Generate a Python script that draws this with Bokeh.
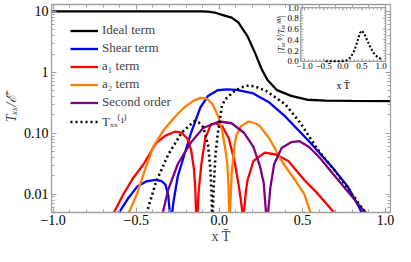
import math
from bokeh.plotting import figure
from bokeh.models import (Range1d, FixedTicker, LinearAxis, LogAxis, Legend, LegendItem,
                          CustomLabelingPolicy, LinearScale)
from bokeh.core.properties import value
from bokeh.embed import file_html
from bokeh.resources import INLINE

# ---------------- data ----------------
ideal_x = [-1.01, -0.5, -0.2, -0.114, -0.068, -0.028, 0.017, 0.074, 0.114, 0.17, 0.216,
           0.256, 0.29, 0.347, 0.432, 0.528, 0.642, 0.8, 1.03]
ideal_y = [10.0, 10.0, 10.0, 10.0, 9.9, 9.6, 8.8, 7.9, 6.6, 3.9, 2.05,
           1.11, 0.75, 0.51, 0.41, 0.355, 0.343, 0.34, 0.338]

shear_x = [-0.62, -0.597, -0.551, -0.494, -0.4375, -0.381, -0.347, -0.324, -0.307, -0.298,
           -0.293, -0.284, -0.276, -0.25, -0.21, -0.17, -0.114, -0.068, -0.011, 0.045,
           0.102, 0.199, 0.301, 0.398, 0.545, 0.682, 0.773, 0.841, 0.858, 0.869]
shear_y = [0.0045, 0.0053, 0.0084, 0.0133, 0.0163, 0.0171, 0.0163, 0.0143, 0.0094, 0.0049,
           0.0001, 0.0049, 0.0075, 0.0197, 0.0448, 0.102, 0.267, 0.41, 0.508, 0.526,
           0.517, 0.456, 0.319, 0.187, 0.0713, 0.0272, 0.0133, 0.0061, 0.0049, 0.0043]

a1_x = [-0.653, -0.636, -0.58, -0.523, -0.455, -0.381, -0.324, -0.267, -0.227, -0.193,
        -0.170, -0.153, -0.145, -0.140, -0.136, -0.131, -0.125, -0.108, -0.085, -0.051,
        -0.023, 0.017, 0.057, 0.091, 0.114, 0.131, 0.139, 0.144, 0.148, 0.159,
        0.170, 0.205, 0.273, 0.341, 0.415, 0.511, 0.585, 0.682, 0.71]
a1_y = [0.0040, 0.0049, 0.0097, 0.0177, 0.0313, 0.0688, 0.0915, 0.106, 0.102, 0.082,
        0.0535, 0.0263, 0.0128, 0.0049, 0.0001, 0.0049, 0.0107, 0.0313, 0.082, 0.14,
        0.146, 0.131, 0.082, 0.035, 0.0153, 0.0075, 0.0049, 0.0001, 0.0049, 0.0107,
        0.0171, 0.035, 0.048, 0.0448, 0.035, 0.0171, 0.0107, 0.0053, 0.0040]

a2_x = [-0.5625, -0.545, -0.494, -0.455, -0.398, -0.335, -0.267, -0.21, -0.153, -0.114,
        -0.074, -0.04, -0.006, 0.017, 0.034, 0.048, 0.056, 0.059, 0.061, 0.064,
        0.074, 0.091, 0.102, 0.131, 0.176, 0.216, 0.244, 0.301, 0.375, 0.455,
        0.511, 0.545, 0.5625]
a2_y = [0.0040, 0.0049, 0.0104, 0.0219, 0.0596, 0.113, 0.187, 0.267, 0.343, 0.381,
        0.368, 0.297, 0.187, 0.11, 0.0596, 0.0313, 0.0128, 0.0049, 0.0001, 0.0049,
        0.0219, 0.064, 0.0915, 0.131, 0.156, 0.146, 0.131, 0.082, 0.035, 0.0171,
        0.0100, 0.0053, 0.0040]

second_x = [-0.352, -0.341, -0.307, -0.25, -0.17, -0.097, 0.0, 0.074, 0.148, 0.205,
            0.244, 0.267, 0.281, 0.287, 0.293, 0.307, 0.33, 0.375, 0.432, 0.483,
            0.540, 0.602, 0.682, 0.773, 0.852, 0.886, 0.903]
second_y = [0.0040, 0.0049, 0.0120, 0.0313, 0.0713, 0.122, 0.156, 0.146, 0.102, 0.0596,
            0.0292, 0.0153, 0.0049, 0.0001, 0.0049, 0.0128, 0.0313, 0.0575, 0.0713, 0.074,
            0.0596, 0.0403, 0.0219, 0.0111, 0.0061, 0.0049, 0.0040]

t1_x = [-0.449, -0.4375, -0.381, -0.307, -0.227, -0.153, -0.125, -0.097, -0.068, -0.054,
        -0.047, -0.044, -0.042, -0.040, -0.034, -0.023, -0.011, 0.0, 0.017, 0.045,
        0.091, 0.131, 0.176, 0.216, 0.284, 0.398, 0.489, 0.585, 0.642, 0.699,
        0.773, 0.824, 0.869, 0.886]
t1_y = [0.0040, 0.0049, 0.0159, 0.0448, 0.102, 0.156, 0.151, 0.126, 0.064, 0.0263,
        0.0107, 0.0049, 0.0001, 0.0049, 0.0128, 0.0448, 0.0915, 0.146, 0.297, 0.381,
        0.49, 0.565, 0.607, 0.585, 0.49, 0.297, 0.146, 0.0575, 0.0362, 0.0236,
        0.0124, 0.0081, 0.0053, 0.0043]

inset_x = [-0.45, -0.3, -0.1, 0.0, 0.1, 0.2, 0.3, 0.35, 0.4, 0.45, 0.5, 0.55, 0.6, 0.7,
           0.8, 0.9, 1.0]
inset_y = [0.0, 0.0, 0.0, 0.003, 0.02, 0.07, 0.2, 0.3, 0.42, 0.53, 0.57, 0.52, 0.45, 0.29,
           0.16, 0.08, 0.04]

series_labels = ["Ideal term", "Shear term", "a\u2081 term", "a\u2082 term",
                 "Second order", "T\u2093\u2093\u207d\u00b9\u207e"]

x_ticks = [-1.0, -0.5, 0.0, 0.5, 1.0]
x_tick_labels = ["\u22121.0", "\u22120.5", "0.0", "0.5", "1.0"]
y_ticks = [0.01, 0.1, 1.0, 10.0]
y_tick_labels = ["0.01", "0.10", "1", "10"]
inset_y_ticks = [0.0, 0.2, 0.4, 0.6, 0.8, 1.0]
inset_y_tick_labels = ["0.0", "0.2", "0.4", "0.6", "0.8", "1.0"]
inset_xlabel = "x T\u0304"
inset_ylabel = "|T\u2093\u2093\u207d\u00b9\u207e/T\u2093\u2093\u207d\u2070\u207e|"

# ---------------- styling helpers ----------------
SERIF = "Liberation Serif"
FRAME = "#a0a0a0"

x_minor = [round(-1.0 + 0.1 * i, 2) for i in range(21)]
y_minor = [k * 10.0 ** e for e in range(-3, 2) for k in range(2, 10)]
inset_y_minor = [round(0.05 * i, 2) for i in range(21)]


def style_axis(ax, size, tick_in, minor_in, labels=True):
    ax.axis_line_color = FRAME
    ax.axis_line_width = 1.3
    ax.major_tick_line_color = FRAME
    ax.minor_tick_line_color = FRAME
    ax.major_tick_line_width = 1.1
    ax.minor_tick_line_width = 1.0
    ax.major_tick_in = tick_in
    ax.major_tick_out = 0
    ax.minor_tick_in = minor_in
    ax.minor_tick_out = 0
    ax.major_label_text_font = SERIF
    ax.major_label_text_color = "black"
    ax.major_label_text_font_size = size
    ax.major_label_standoff = 2
    if not labels:
        ax.major_label_text_font_size = "1px"
        ax.major_label_standoff = 0
        ax.major_label_policy = CustomLabelingPolicy(code="return []")


def style_label(ax, text, size, style, standoff):
    ax.axis_label = text
    ax.axis_label_text_font = SERIF
    ax.axis_label_text_font_style = style
    ax.axis_label_text_font_size = size
    ax.axis_label_text_line_height = 1.0
    ax.axis_label_standoff = standoff


# ---------------- main figure ----------------
p = figure(width=395, height=246, x_range=Range1d(-1.01, 1.03), y_range=Range1d(0.005, 13.0),
           y_axis_type="log", output_backend="svg", toolbar_location=None,
           min_border_left=0, min_border_right=4, min_border_top=1, min_border_bottom=0)
p.grid.visible = False
p.outline_line_color = FRAME
p.background_fill_color = "white"
p.border_fill_color = "white"

p.xaxis.ticker = FixedTicker(ticks=x_ticks, minor_ticks=x_minor)
p.yaxis.ticker = FixedTicker(ticks=y_ticks, minor_ticks=y_minor)
for ax in p.xaxis:
    style_axis(ax, "14px", 5, 3)
    ax.major_label_overrides = dict(zip(x_ticks, x_tick_labels))
    style_label(ax, "x T\u0304", "14px", "normal", 1)
for ax in p.yaxis:
    style_axis(ax, "14px", 5, 3)
    ax.major_label_standoff = 3
    ax.major_label_overrides = dict(zip(y_ticks, y_tick_labels))
    style_label(ax, "T\u2093\u2093/\u2130\u0304", "14px", "italic", 2)

top_ax = LinearAxis(ticker=FixedTicker(ticks=x_ticks, minor_ticks=x_minor))
style_axis(top_ax, "1px", 5, 3, labels=False)
p.add_layout(top_ax, "above")
right_ax = LogAxis(ticker=FixedTicker(ticks=y_ticks, minor_ticks=y_minor))
style_axis(right_ax, "1px", 5, 3, labels=False)
p.add_layout(right_ax, "right")

LW = 2.3
r_ideal = p.line(ideal_x, ideal_y, line_color="black", line_width=LW)
r_shear = p.line(shear_x, shear_y, line_color="#0000ff", line_width=LW)
r_a1 = p.line(a1_x, a1_y, line_color="#ff0000", line_width=LW)
r_a2 = p.line(a2_x, a2_y, line_color="#ff8000", line_width=LW)
r_sec = p.line(second_x, second_y, line_color="#800080", line_width=LW)
r_t1 = p.line(t1_x, t1_y, line_color="black", line_width=2.6, line_dash="2 3")

renderers = [r_ideal, r_shear, r_a1, r_a2, r_sec, r_t1]
legend = Legend(items=[LegendItem(label=lab, renderers=[r]) for lab, r in zip(series_labels, renderers)],
                location=(19, 82), border_line_color=None, background_fill_alpha=0.0,
                label_text_font=SERIF, label_text_font_size="13px", glyph_width=28,
                glyph_height=15, label_height=15, spacing=2, padding=0, margin=0,
                label_standoff=4)
p.add_layout(legend)

# ---------------- inset, drawn on its own linear ranges inside the main frame ----------------
FW, FH = 355, 205                               # main frame size in px (approx.)
INS_L, INS_R, INS_T, INS_B = 261, 350, 3, 56    # inset box inside the main frame, px
ix0, ix1 = -1.1, 1.12
iy0, iy1 = 0.0, 1.0
kx = (ix1 - ix0) / (INS_R - INS_L)
ky = (iy1 - iy0) / (INS_B - INS_T)
p.extra_x_ranges = {"inset": Range1d(ix0 - INS_L * kx, ix1 + (FW - INS_R) * kx)}
p.extra_y_ranges = {"inset": Range1d(iy0 - (FH - INS_B) * ky, iy1 + INS_T * ky)}
p.extra_x_scales = {"inset": LinearScale()}
p.extra_y_scales = {"inset": LinearScale()}
IR = dict(x_range_name="inset", y_range_name="inset")

p.quad(left=[ix0], right=[ix1], bottom=[iy0], top=[iy1], fill_color=None,
       line_color=FRAME, line_width=1.2, **IR)
nx, nxm = len(x_ticks), len(x_minor)
ny, nym = len(inset_y_ticks), len(inset_y_minor)
tick_kw = dict(line_color=FRAME, line_width=1.0, **IR)
# bottom / top ticks
p.segment(x0=x_ticks, y0=[iy0] * nx, x1=x_ticks, y1=[iy0 + 3 * ky] * nx, **tick_kw)
p.segment(x0=x_minor, y0=[iy0] * nxm, x1=x_minor, y1=[iy0 + 2 * ky] * nxm, **tick_kw)
p.segment(x0=x_ticks, y0=[iy1] * nx, x1=x_ticks, y1=[iy1 - 3 * ky] * nx, **tick_kw)
p.segment(x0=x_minor, y0=[iy1] * nxm, x1=x_minor, y1=[iy1 - 2 * ky] * nxm, **tick_kw)
# left / right ticks
p.segment(x0=[ix0] * ny, y0=inset_y_ticks, x1=[ix0 + 3 * kx] * ny, y1=inset_y_ticks, **tick_kw)
p.segment(x0=[ix0] * nym, y0=inset_y_minor, x1=[ix0 + 2 * kx] * nym, y1=inset_y_minor, **tick_kw)
p.segment(x0=[ix1] * ny, y0=inset_y_ticks, x1=[ix1 - 3 * kx] * ny, y1=inset_y_ticks, **tick_kw)
p.segment(x0=[ix1] * nym, y0=inset_y_minor, x1=[ix1 - 2 * kx] * nym, y1=inset_y_minor, **tick_kw)

txt = dict(text_font=value(SERIF), text_color="black", **IR)
p.text(x=x_ticks, y=[iy0] * nx, text=x_tick_labels, text_align="center", text_baseline="top",
       y_offset=2, text_font_size="9px", **txt)
p.text(x=[ix0] * ny, y=inset_y_ticks, text=inset_y_tick_labels, text_align="right",
       text_baseline="middle", x_offset=-2, text_font_size="9px", **txt)
p.text(x=[(ix0 + ix1) / 2], y=[iy0], text=[inset_xlabel], text_align="center", text_baseline="top",
       y_offset=19, text_font_size="10px", **txt)
p.text(x=[ix0], y=[(iy0 + iy1) / 2], text=[inset_ylabel], angle=math.pi / 2, text_align="center",
       text_baseline="bottom", x_offset=-15, text_font_size="8px", text_font_style="italic", **txt)
p.line(inset_x, inset_y, line_color="black", line_width=2.0, line_dash="2 2", **IR)

open("out.html", "w").write(file_html(p, INLINE))
